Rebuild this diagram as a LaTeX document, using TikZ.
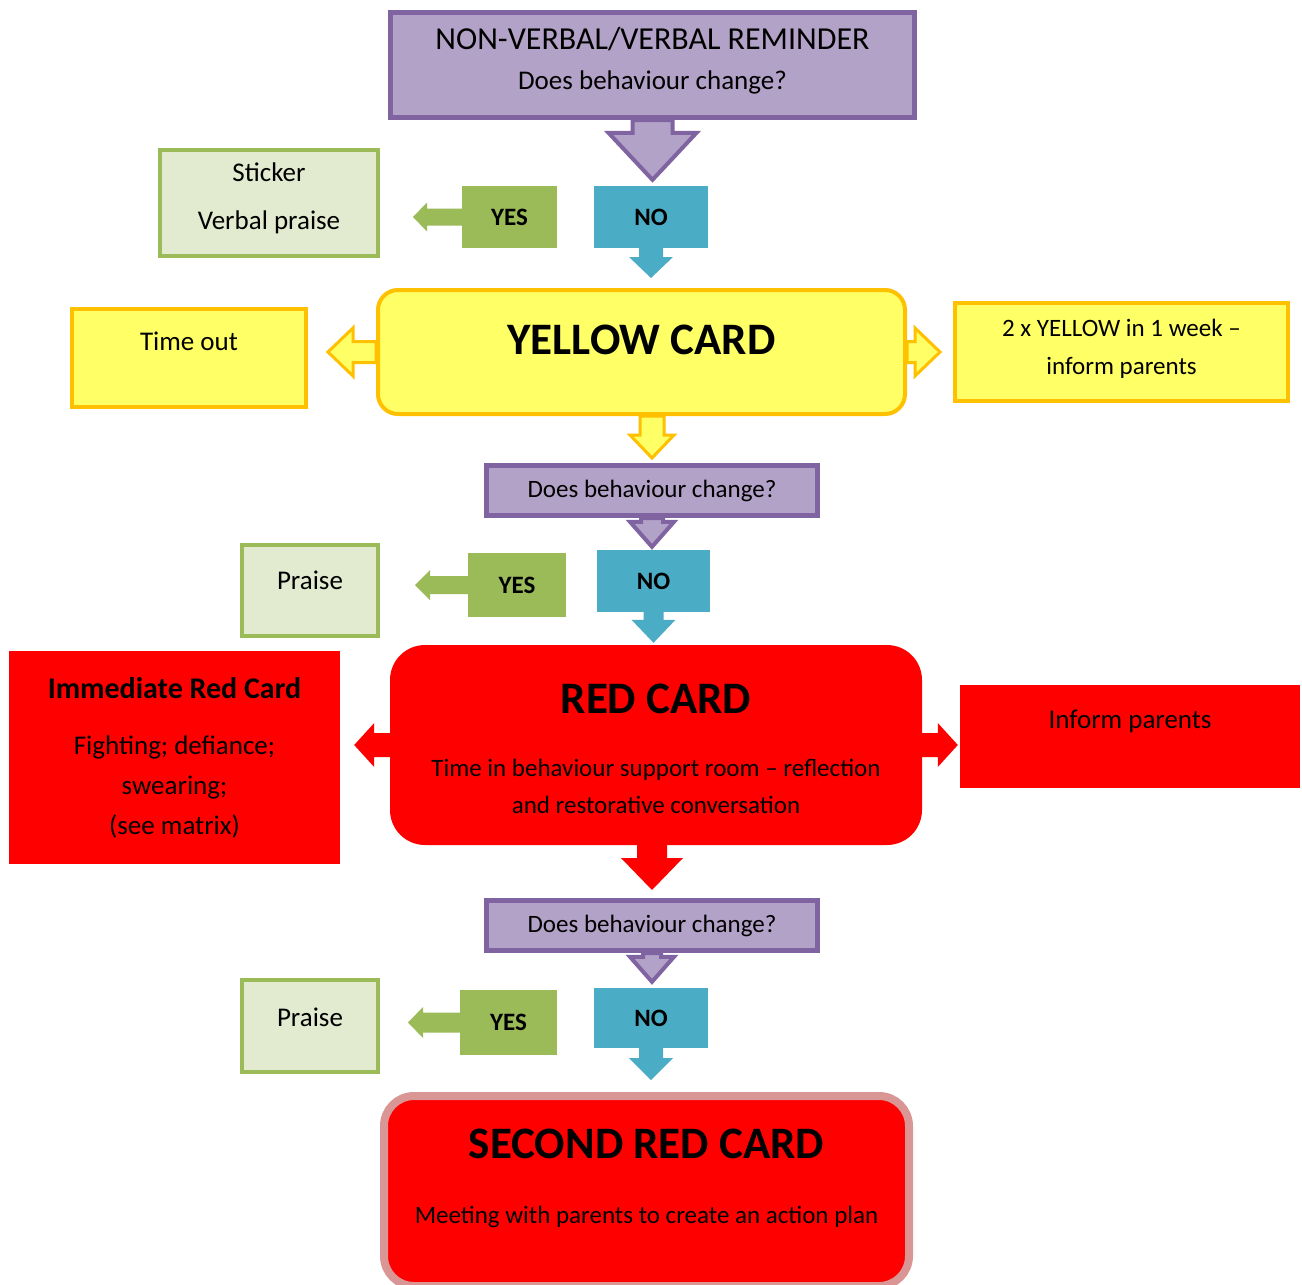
\documentclass[tikz,border=0pt]{standalone}
\usepackage{fontspec}
\setmainfont{Carlito}
\usepackage{xcolor}
\usetikzlibrary{calc}
\definecolor{boxlav}{RGB}{179,162,199}
\definecolor{linepurple}{RGB}{128,100,162}
\definecolor{boxgreen}{RGB}{155,187,89}
\definecolor{boxpale}{RGB}{226,234,207}
\definecolor{boxblue}{RGB}{75,172,198}
\definecolor{boxyellow}{RGB}{255,255,102}
\definecolor{linegold}{RGB}{255,192,0}
\definecolor{cardred}{RGB}{255,0,0}
\definecolor{linepink}{RGB}{217,150,148}

\begin{document}
\begin{tikzpicture}[
    x=1pt, y=1pt,
    box/.style={
        rectangle,
        align=center,
        inner sep=0pt,
        font=\fontsize{27}{40}\selectfont
    },
    askbox/.style={box, fill=boxlav, draw=linepurple, line width=5pt},
    yesbox/.style={box, fill=boxgreen, font=\fontsize{25}{30}\bfseries\selectfont},
    nobox/.style={box, fill=boxblue, font=\fontsize{25}{30}\bfseries\selectfont},
    praisebox/.style={box, fill=boxpale, draw=boxgreen, line width=4pt},
    yelbox/.style={box, fill=boxyellow, draw=linegold, line width=4pt},
    cardyellow/.style={yelbox, rounded corners=20pt},
    redbox/.style={box, fill=cardred},
    redcard/.style={redbox, rounded corners=35pt},
    secondcard/.style={redbox, draw=linepink, line width=8pt, rounded corners=30pt},
    lift/.style={text depth=#1pt},
    % block arrow: shaft half width / head half width / head length / gap before target
    blk/.style n args={4}{to path={
        let \p1=(\tikztostart), \p2=(\tikztotarget),
            \n1={atan2(\y2-\y1,\x2-\x1)},
            \n2={veclen(\x2-\x1,\y2-\y1)-#4} in
        ($(\p1)+(\n1+90:#1)$) -- ($(\p1)+(\n1:\n2-#3)+(\n1+90:#1)$)
        -- ($(\p1)+(\n1:\n2-#3)+(\n1+90:#2)$) -- ($(\p1)+(\n1:\n2)$)
        -- ($(\p1)+(\n1:\n2-#3)+(\n1-90:#2)$) -- ($(\p1)+(\n1:\n2-#3)+(\n1-90:#1)$)
        -- ($(\p1)+(\n1-90:#1)$) -- cycle}},
    purparrow/.style={draw=linepurple, fill=boxlav, line width=4pt, line join=miter},
    yelarrow/.style={draw=linegold, fill=boxyellow, line width=3pt, line join=miter},
    grnarrow/.style={fill=boxgreen},
    bluarrow/.style={fill=boxblue},
    redarrow/.style={fill=cardred}
]

\path[use as bounding box, fill=white] (0,0) rectangle (1302,-1285);

% first step
\node[askbox, minimum width=524pt, minimum height=105pt, font=\fontsize{27}{40}\selectfont, lift=14] (remind) at (652.5,-65)
    {{\fontsize{32}{40}\selectfont NON-VERBAL/VERBAL REMINDER}\\Does behaviour change?};
\node[yesbox, minimum width=95pt, minimum height=62pt] (yes1) at (509.5,-217) {YES};
\node[nobox, minimum width=114pt, minimum height=62pt] (no1) at (651,-217) {NO};
\node[praisebox, minimum width=218pt, minimum height=106pt, font=\fontsize{27}{48}\selectfont, lift=14] (sticker) at (269,-203)
    {Sticker\\Verbal praise};

% yellow card
\node[cardyellow, minimum width=527pt, minimum height=124pt, font=\fontsize{45}{54}\bfseries\selectfont, lift=24] (yellow) at (641.5,-352) {YELLOW CARD};
\node[yelbox, minimum width=234pt, minimum height=98pt, lift=33] (timeout) at (189,-358) {Time out};
\node[yelbox, minimum width=333pt, minimum height=98pt, font=\fontsize{25}{38}\selectfont, lift=10] (twoy) at (1121.5,-352)
    {2 x YELLOW in 1 week –\\inform parents};

\node[askbox, minimum width=331pt, minimum height=50pt, font=\fontsize{25}{30}\selectfont] (ask2) at (652,-490.5) {Does behaviour change?};
\node[praisebox, minimum width=136pt, minimum height=91pt, lift=21] (praise1) at (310,-590.5) {Praise};
\node[yesbox, minimum width=98pt, minimum height=64pt] (yes2) at (517,-585) {YES};
\node[nobox, minimum width=113pt, minimum height=62pt] (no2) at (653.5,-581) {NO};

% red card
\node[redcard, minimum width=532pt, minimum height=200pt, font=\fontsize{25}{37}\selectfont] (red) at (656,-745)
    {\rule{0pt}{37pt}{\fontsize{45}{54}\bfseries\selectfont RED CARD}\\[26pt]Time in behaviour support room – reflection\\and restorative conversation};
\node[redbox, minimum width=331pt, minimum height=213pt, font=\fontsize{27}{40}\selectfont] (immed) at (174.5,-757.5)
    {{\fontsize{30}{40}\bfseries\selectfont Immediate Red Card}\\[16pt]Fighting; defiance;\\swearing;\\(see matrix)};
\node[redbox, minimum width=340pt, minimum height=103pt, lift=34] (inform) at (1130,-736.5) {Inform parents};

\node[askbox, minimum width=331pt, minimum height=50pt, font=\fontsize{25}{30}\selectfont] (ask3) at (652,-925.5) {Does behaviour change?};
\node[praisebox, minimum width=136pt, minimum height=92pt, lift=18] (praise2) at (310,-1026) {Praise};
\node[yesbox, minimum width=97pt, minimum height=65pt] (yes3) at (508.5,-1022.5) {YES};
\node[nobox, minimum width=114pt, minimum height=60pt] (no3) at (651,-1018) {NO};

% second red card
\node[secondcard, minimum width=525pt, minimum height=190pt, font=\fontsize{25}{37}\selectfont, lift=30] (second) at (646.5,-1191)
    {{\fontsize{45}{54}\bfseries\selectfont SECOND RED CARD}\\[27.5pt]Meeting with parents to create an action plan};

% arrows
\draw[purparrow, blk={20}{44}{47}{6}] (remind.south) to (remind.south |- no1.north);
\fill[grnarrow, blk={8.5}{14.5}{14}{33}] (yes1.west) to (yes1.west -| sticker.east);
\fill[bluarrow, blk={12}{22}{21}{10}] (no1.south) to (no1.south |- yellow.north);

\draw[yelarrow, blk={10.5}{24}{25}{20}] (yellow.west) to (yellow.west -| timeout.east);
\draw[yelarrow, blk={10.5}{24}{25}{13}] (yellow.east) to (yellow.east -| twoy.west);
\draw[yelarrow, blk={12}{22}{23}{5}] (ask2.north |- yellow.south) to (ask2.north);

\draw[purparrow, blk={11}{22}{25}{3}] (ask2.south) to (ask2.south |- no2.north);
\fill[grnarrow, blk={9}{15}{15}{35}] (yes2.west) to (yes2.west -| praise1.east);
\fill[bluarrow, blk={10}{22}{23}{2}] (no2.south) to (no2.south |- red.north);

\fill[redarrow, blk={12}{22}{20}{14}] (red.west) to (red.west -| immed.east);
\fill[redarrow, blk={12}{22}{20}{2}] (red.east) to (red.east -| inform.west);
\fill[redarrow, blk={15}{31}{32}{8}] (ask3.north |- red.south) to (ask3.north);

\draw[purparrow, blk={9}{22}{25}{6}] (ask3.south) to (ask3.south |- no3.north);
\fill[grnarrow, blk={10}{15.5}{15}{28}] (yes3.west) to (yes3.west -| praise2.east);
\fill[bluarrow, blk={12}{22}{22}{12}] (no3.south) to (no3.south |- second.north);

\end{tikzpicture}
\end{document}
